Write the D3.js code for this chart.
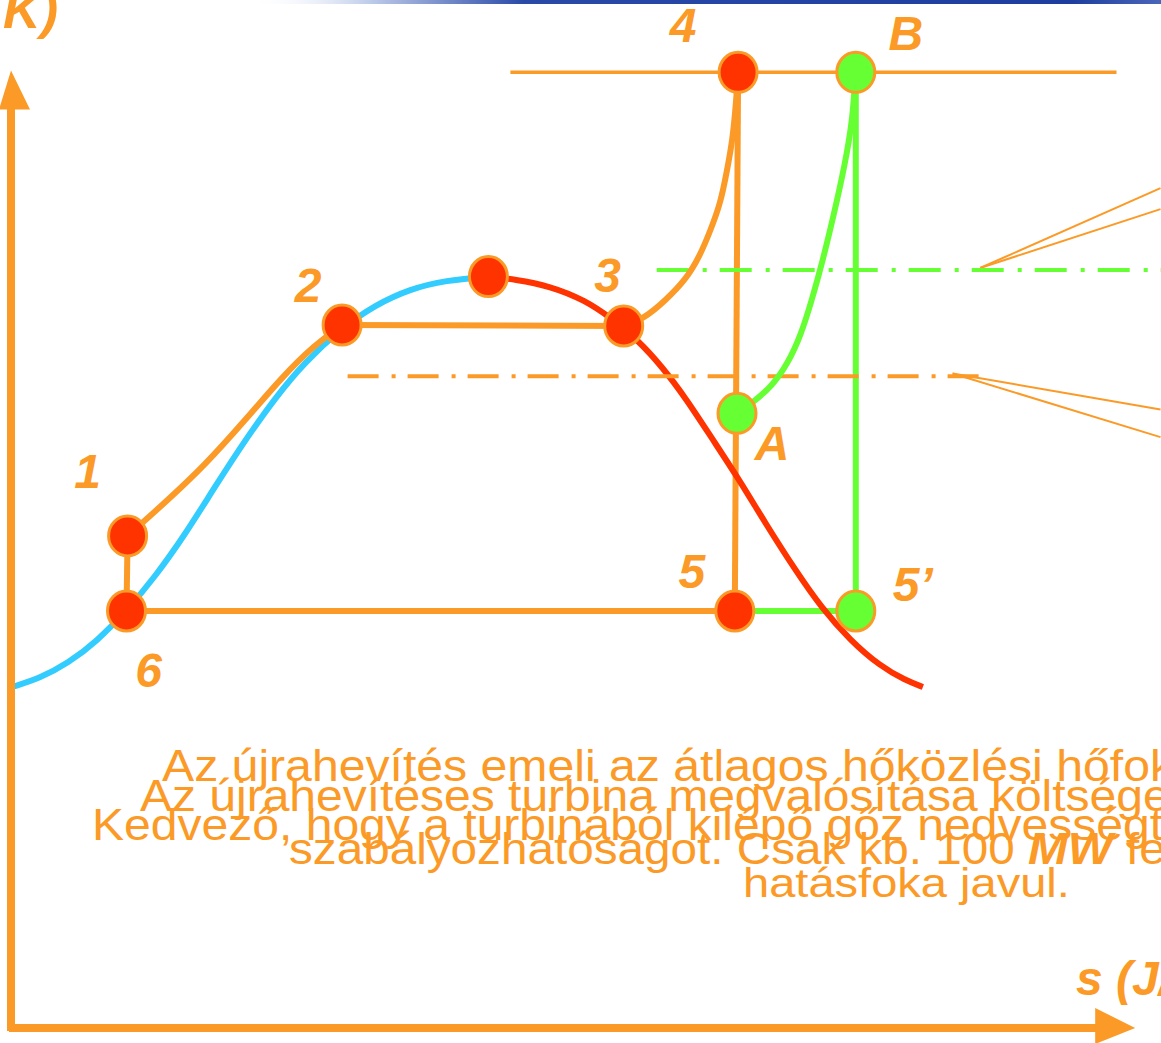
<!DOCTYPE html>
<html><head><meta charset="utf-8">
<script src="https://cdn.jsdelivr.net/npm/d3@7"></script>
<style>html,body{margin:0;padding:0;background:#fff;overflow:hidden}</style>
</head><body>
<script>
// ---------- DATA (s, T in diagram units) ----------
const liquidLineS = [0.01,0.26,0.52,0.78,1.05,1.31,1.58,1.85,2.13,2.40,2.67,3.01,3.31,3.63,3.95,4.34];
const liquidLineT = [3.59,3.68,3.84,4.07,4.39,4.75,5.19,5.69,6.19,6.63,7.01,7.37,7.61,7.78,7.87,7.91];
const vaporLineS  = [4.34,4.58,4.90,5.22,5.46,5.70,5.92,6.14,6.37,6.61,6.86,7.13,7.37,7.63,7.90,8.13,8.29];
const vaporLineT  = [7.91,7.88,7.81,7.66,7.47,7.24,6.96,6.62,6.21,5.79,5.31,4.82,4.42,4.08,3.81,3.66,3.59];
const heat12S = [1.06,1.40,1.76,2.13,2.47,2.76,3.01];
const heat12T = [5.18,5.53,5.92,6.40,6.86,7.19,7.40];
const heat34S = [5.57,5.76,5.95,6.13,6.26,6.36,6.45,6.51,6.56,6.59,6.61];
const heat34T = [7.39,7.47,7.66,7.87,8.12,8.40,8.68,9.03,9.35,9.72,10.06];
const reheatABS = [6.60,6.76,6.92,7.06,7.18,7.28,7.38,7.48,7.58,7.65,7.67,7.68];
const reheatABT = [6.47,6.60,6.76,6.99,7.29,7.66,8.08,8.56,9.08,9.56,9.93,10.06];

const pointNames = ["6","1","2","K","3","4","B","A","5","5’"];
const pointS     = [1.05,1.06,3.01,4.34,5.57,6.61,7.68,6.60,6.58,7.68];
const pointT     = [4.39,5.18,7.40,7.91,7.39,10.06,10.06,6.47,4.39,4.39];
const pointKind  = ["base","base","base","base","base","base","reheat","reheat","base","reheat"];

// isobars
const topIsobarS = [4.54,10.05];  const topIsobarT = 10.06;
const reheatIsobarS = [5.87,10.6]; const reheatIsobarT = 7.98;
const midIsobarS = [3.06,8.81];   const midIsobarT = 6.86;
// callout leader lines: [s0,T0,s1,T1]
const calloutOrange = [[8.56,6.89,10.45,6.51],[8.56,6.89,10.45,6.22]];
const calloutGreen  = [[8.81,8.00,10.45,8.84],[8.81,8.00,10.45,8.62]];

const axisSMax = 10.22, axisTMax = 10.08;
const axisTitleT = "T (K)";
const axisTitleS = "s (J/kgK)";

const noteLines = [
  [{t:"Az újrahevítés emeli az átlagos hőközlési hőfok"}],
  [{t:"Az újrahevítéses turbina megvalósítása költsége"}],
  [{t:"Kedvező, hogy a turbinából kilépő gőz nedvességt"}],
  [{t:"szabályozhatóságot. Csak kb. 100 "},{t:"MW",it:true},{t:" fe"}],
  [{t:"hatásfoka javul."}]
];

// ---------- LAYOUT ----------
const W = 1161, H = 1043;
const ORANGE = "#fb9a26", RED = "#ff3300", GREEN = "#66ff33", BLUE = "#33ccff";
const x = d3.scaleLinear().domain([0,10]).range([11,1111]);
const y = d3.scaleLinear().domain([0,10]).range([1028,78]);

const svg = d3.select("body").append("svg").attr("width",W).attr("height",H)
  .style("font-family","'Liberation Sans', Arial, sans-serif");

const defs = svg.append("defs");
const g1 = defs.append("linearGradient").attr("id","topbar");
[[0,"#ffffff",0],[0.12,"#c8d4ee",1],[0.3,"#2a4aa8",1],[0.9,"#1d3e9e",1],[1,"#4a66b8",1]].forEach(s=>
  g1.append("stop").attr("offset",s[0]).attr("stop-color",s[1]).attr("stop-opacity",s[2]));
svg.append("rect").attr("x",250).attr("y",0).attr("width",W-250).attr("height",4).attr("fill","url(#topbar)");

const line = d3.line().x(d=>x(d[0])).y(d=>y(d[1])).curve(d3.curveBasis);
const zip = (a,b)=>a.map((v,i)=>[v,b[i]]);
const P = name => { const i = pointNames.indexOf(name); return [pointS[i], pointT[i]]; };

// thin callout lines
[...calloutOrange, ...calloutGreen].forEach(c=>{
  svg.append("line").attr("x1",x(c[0])).attr("y1",y(c[1])).attr("x2",x(c[2])).attr("y2",y(c[3]))
    .attr("stroke",ORANGE).attr("stroke-width",2);
});

// top isobar
svg.append("line").attr("x1",x(topIsobarS[0])).attr("x2",x(topIsobarS[1]))
  .attr("y1",y(topIsobarT)).attr("y2",y(topIsobarT)).attr("stroke",ORANGE).attr("stroke-width",3.5);

const seg = d3.line().x(d=>x(d[0])).y(d=>y(d[1]));
// straight cycle lines (orange)
[[P("6"),P("1")],[P("2"),P("3")],[P("6"),P("5")],[P("4"),P("5")]].forEach(ab=>
  svg.append("path").attr("d",seg(ab)).attr("stroke",ORANGE).attr("stroke-width",6).attr("fill","none"));
// green straight lines
[[P("5"),P("5’")],[P("B"),P("5’")]].forEach(ab=>
  svg.append("path").attr("d",seg(ab)).attr("stroke",GREEN).attr("stroke-width",6).attr("fill","none"));

// saturation curves
svg.append("path").attr("d",line(zip(liquidLineS,liquidLineT))).attr("stroke",BLUE).attr("stroke-width",6).attr("fill","none");
svg.append("path").attr("d",line(zip(vaporLineS,vaporLineT))).attr("stroke",RED).attr("stroke-width",6).attr("fill","none");

// dash-dot isobars
svg.append("line").attr("x1",x(midIsobarS[0])).attr("x2",x(midIsobarS[1]))
  .attr("y1",y(midIsobarT)).attr("y2",y(midIsobarT)).attr("stroke",ORANGE).attr("stroke-width",4)
  .attr("stroke-dasharray","31 13 4 12");
svg.append("line").attr("x1",x(reheatIsobarS[0])).attr("x2",x(reheatIsobarS[1]))
  .attr("y1",y(reheatIsobarT)).attr("y2",y(reheatIsobarT)).attr("stroke",GREEN).attr("stroke-width",4)
  .attr("stroke-dasharray","32 14 4 13");

// heating curves
svg.append("path").attr("d",line(zip(heat12S,heat12T))).attr("stroke",ORANGE).attr("stroke-width",6).attr("fill","none");
svg.append("path").attr("d",line(zip(heat34S,heat34T))).attr("stroke",ORANGE).attr("stroke-width",6).attr("fill","none");
svg.append("path").attr("d",line(zip(reheatABS,reheatABT))).attr("stroke",GREEN).attr("stroke-width",6).attr("fill","none");

// points
svg.selectAll("ellipse.pt").data(pointNames.map((n,i)=>({n,s:pointS[i],T:pointT[i],k:pointKind[i]})))
  .join("ellipse").attr("class","pt")
  .attr("cx",d=>x(d.s)).attr("cy",d=>y(d.T)).attr("rx",19).attr("ry",20)
  .attr("fill",d=>d.k==="reheat"?GREEN:RED).attr("stroke",ORANGE).attr("stroke-width",3);

// labels
const labelOffset = {"6":[22,76],"1":[-40,-48],"2":[-34,-23],"3":[-16,-34],"4":[-55,-30],"B":[50,-22],"A":[35,47],"5":[-43,-23],"5’":[57,-10]};
Object.keys(labelOffset).forEach(n=>{
  const [s,T] = P(n), o = labelOffset[n];
  svg.append("text").attr("x",x(s)+o[0]).attr("y",y(T)+o[1]).attr("text-anchor","middle")
    .attr("fill",ORANGE).attr("font-size",48).attr("font-weight","bold").attr("font-style","italic").text(n);
});

// axes
svg.append("line").attr("x1",x(0)).attr("x2",x(0)).attr("y1",y(0)+3).attr("y2",y(axisTMax)+30)
  .attr("stroke",ORANGE).attr("stroke-width",8);
svg.append("line").attr("x1",x(0)-2).attr("x2",x(axisSMax)-30).attr("y1",y(0)).attr("y2",y(0))
  .attr("stroke",ORANGE).attr("stroke-width",8);
const tipT = [x(0), y(axisTMax)], tipS = [x(axisSMax), y(0)];
svg.append("path").attr("d",`M${tipT[0]},${tipT[1]} L${tipT[0]+19},${tipT[1]+39} L${tipT[0]-12},${tipT[1]+39} Z`).attr("fill",ORANGE);
svg.append("path").attr("d",`M${tipS[0]},${tipS[1]} L${tipS[0]-40},${tipS[1]-20} L${tipS[0]-40},${tipS[1]+16} Z`).attr("fill",ORANGE);

svg.append("text").attr("x",58).attr("y",28).attr("text-anchor","end").attr("fill",ORANGE)
  .attr("font-size",52).attr("font-weight","bold").attr("font-style","italic").text(axisTitleT);
svg.append("text").attr("x",1076).attr("y",995).attr("fill",ORANGE)
  .attr("font-size",48).attr("font-weight","bold").attr("font-style","italic").text(axisTitleS);

// note text lines (overlapping, horizontally stretched)
const noteLayout = [
  {x:162,y:781,size:44,prefix:"Az újrahevítés emeli az átlagos hőközlési",end:1043},
  {x:140,y:811,size:44,prefix:"Az újrahevítéses turbina megvalósítása költsége",end:1170},
  {x:92, y:840,size:44,prefix:"Kedvező, hogy a turbinából kilépő gőz nedvesség",end:1150},
  {x:289,y:864,size:44,prefix:"szabályozhatóságot. Csak kb. 100",end:1015},
  {x:743,y:897,size:40,prefix:"hatásfoka javul.",end:1070}
];
noteLines.forEach((parts,i)=>{
  const L = noteLayout[i];
  const tmp = svg.append("text").attr("font-size",L.size).text(L.prefix);
  const w = tmp.node().getComputedTextLength(); tmp.remove();
  const sx = (L.end - L.x)/w;
  const t = svg.append("text").attr("transform",`translate(${L.x},${L.y}) scale(${sx},1)`)
    .attr("fill",ORANGE).attr("font-size",L.size);
  parts.forEach(p=>{
    const ts = t.append("tspan").text(p.t);
    if (p.it) ts.attr("font-style","italic").attr("font-weight","bold");
  });
});
</script>
</body></html>
